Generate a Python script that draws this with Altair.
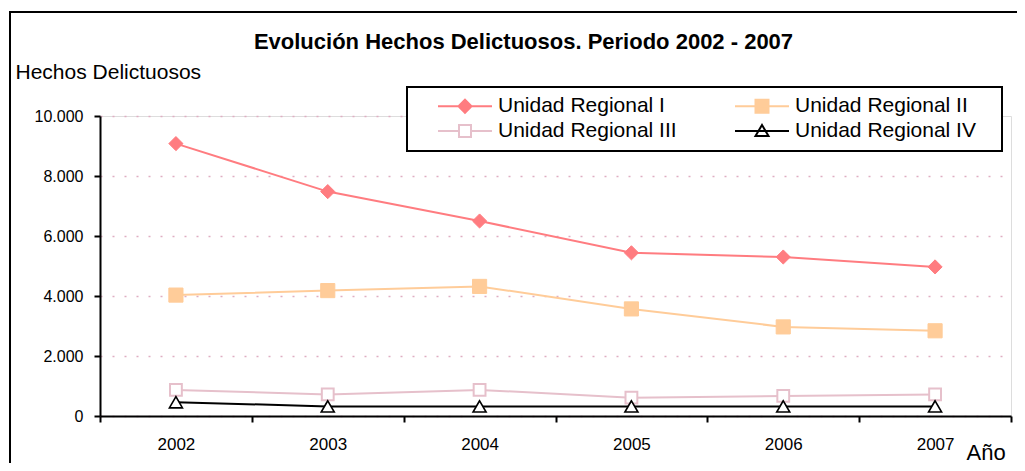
import altair as alt
import pandas as pd

years = ["2002", "2003", "2004", "2005", "2006", "2007"]
series = ["Unidad Regional I", "Unidad Regional II", "Unidad Regional III", "Unidad Regional IV"]
ur1 = [9080, 7480, 6500, 5440, 5300, 4970]
ur2 = [4030, 4180, 4320, 3570, 2970, 2840]
ur3 = [870, 720, 870, 610, 670, 720]
ur4 = [460, 320, 320, 320, 320, 320]
y_ticks = [0, 2000, 4000, 6000, 8000, 10000]

line_colors = ["#FF7C80", "#FFCC99", "#E6C0CB", "#000000"]
marker_fill = ["#FF7C80", "#FFCC99", "#FFFFFF", "#FFFFFF"]
marker_shapes = ["diamond", "square", "square", "triangle-up"]
marker_sizes = [200, 200, 140, 170]
marker_stroke = [1, 1, 2, 1.6]

legend_paths = [
    "M-2.7,0H2.7M0,-0.65L0.65,0L0,0.65L-0.65,0Z",
    "M-2.7,0H2.7M-0.65,-0.65H0.65V0.65H-0.65Z",
    "M-2.7,0H-0.6M0.6,0H2.7M-0.6,-0.6H0.6V0.6H-0.6Z",
    "M-2.7,0H2.7M0,-0.6L0.65,0.5L-0.65,0.5Z",
]

rows = []
for name, vals in zip(series, [ur1, ur2, ur3, ur4]):
    for yr, v in zip(years, vals):
        rows.append({"year": yr, "serie": name, "value": v})
df = pd.DataFrame(rows)

FONT = "Liberation Sans"

x_enc = alt.X(
    "year:O",
    sort=years,
    scale=alt.Scale(type="band", paddingInner=0, paddingOuter=0),
    axis=alt.Axis(
        title="Año", tickBand="extent", labelAngle=0, labelFontSize=17,
        labelFont=FONT, labelColor="black", labelPadding=14, tickSize=6,
        tickColor="black", tickWidth=2, domainColor="black", domainWidth=2,
        grid=False, titleX=866, titleY=43, titleAlign="left",
        titleBaseline="alphabetic", titleFontSize=22, titleFontWeight="normal",
        titleFont=FONT, titleColor="black",
    ),
)
y_enc = alt.Y(
    "value:Q",
    scale=alt.Scale(domain=[0, 10000]),
    axis=alt.Axis(
        values=y_ticks,
        labelExpr="replace(format(datum.value, ','), ',', '.')",
        grid=True, gridColor="#DFAEC2", gridDash=[2, 10], gridWidth=1.5,
        domainColor="black", domainWidth=2, tickColor="black", tickWidth=2,
        tickSize=6, labelPadding=11, labelFontSize=16, labelFont=FONT,
        labelColor="black", title="Hechos Delictuosos", titleAngle=0,
        titleX=-85, titleY=-38, titleAlign="left", titleBaseline="alphabetic",
        titleFontSize=21, titleFontWeight="normal", titleFont=FONT,
        titleColor="black",
    ),
)

deco = alt.Data(values=[{"k": 1}])

frame = alt.Chart(deco).mark_rect(filled=False, color="black", strokeWidth=2).encode(
    x=alt.value(-90), x2=alt.value(930), y=alt.value(-104), y2=alt.value(364)
)

legend_box = alt.Chart(deco).mark_rect(fill="white", stroke="black", strokeWidth=2).encode(
    x=alt.value(307), x2=alt.value(902), y=alt.value(-29), y2=alt.value(35)
)

series_layers = []
for i, name in enumerate(series):
    base = alt.Chart(df).transform_filter(alt.datum.serie == name)
    series_layers.append(
        base.mark_line(strokeWidth=2, color=line_colors[i]).encode(x=x_enc, y=y_enc)
    )
for i, name in enumerate(series):
    base = alt.Chart(df).transform_filter(alt.datum.serie == name)
    series_layers.append(
        base.mark_point(
            shape=marker_shapes[i], filled=True, fill=marker_fill[i],
            stroke=line_colors[i], strokeWidth=marker_stroke[i],
            size=marker_sizes[i], opacity=1,
        ).encode(x=alt.X("year:O", sort=years), y="value:Q")
    )

leg = alt.Legend(
    title=None, orient="none", legendX=338, legendY=-21, columns=2,
    direction="horizontal", columnPadding=54, rowPadding=3, padding=0,
    symbolSize=400, symbolStrokeWidth=2, symbolOffset=16, labelOffset=22,
    labelFontSize=21, labelFont=FONT, labelColor="black", labelLimit=400,
    zindex=5,
)

legend_layer = (
    alt.Chart(df)
    .transform_filter("false")
    .mark_point(opacity=1, strokeWidth=2)
    .encode(
        x=alt.X("year:O", sort=years),
        y="value:Q",
        shape=alt.Shape("serie:N", scale=alt.Scale(domain=series, range=legend_paths), legend=leg),
        fill=alt.Fill("serie:N", scale=alt.Scale(domain=series, range=marker_fill), legend=leg),
        stroke=alt.Stroke("serie:N", scale=alt.Scale(domain=series, range=line_colors), legend=leg),
    )
)

chart = (
    alt.layer(frame, legend_box, *series_layers, legend_layer)
    .properties(
        width=911,
        height=300,
        autosize=alt.AutoSizeParams(type="none"),
        padding={"left": 92, "top": 108, "right": 6, "bottom": 47},
        title=alt.TitleParams(
            "Evolución Hechos Delictuosos. Periodo 2002 - 2007",
            font=FONT, fontSize=22, fontWeight="bold", color="black",
            anchor="middle", frame="group", dx=-32, dy=43, offset=0,
        ),
    )
    .configure_view(stroke="#DDB5C2", strokeWidth=1.5)
    .configure(background="white")
)

chart.save("out.html", embed_options={"renderer": "svg", "actions": False})
